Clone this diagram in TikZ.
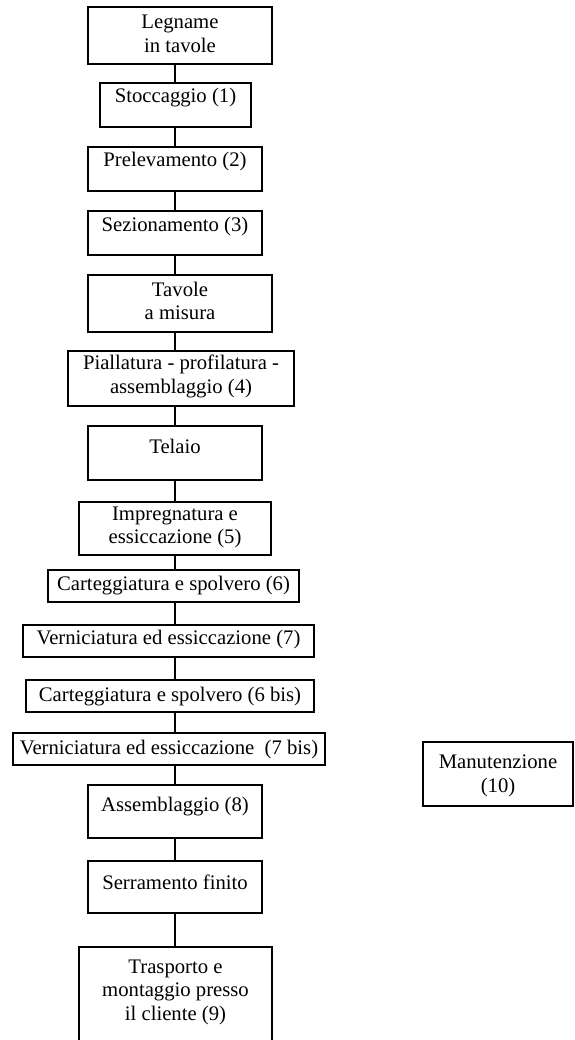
\documentclass[tikz,border=0pt]{standalone}
\usepackage{fontspec}
\setmainfont{Liberation Serif}
\begin{document}
\begin{tikzpicture}[x=1pt,y=-1pt,
  box/.style={draw=black,line width=1.1pt,inner sep=0pt,fill=none},
  lbl/.style={inner sep=0pt,align=center,font=\fontsize{20.7}{23.5}\selectfont},
  conn/.style={draw=black,line width=1.1pt}]
\useasboundingbox (0,0) rectangle (574,1040);
% boxes
\node[box,minimum width=184,minimum height=57] (b1) at (180,35.5) {};
\node[lbl] (t1) at (180,34) {Legname\\in tavole};
\node[box,minimum width=151,minimum height=44] (b2) at (175.5,105) {};
\node[lbl] (t2) at (175.5,98) {Stoccaggio (1)};
\node[box,minimum width=174,minimum height=44] (b3) at (175,169) {};
\node[lbl] (t3) at (175,162) {Prelevamento (2)};
\node[box,minimum width=174,minimum height=44] (b4) at (175,233) {};
\node[lbl] (t4) at (175,227) {Sezionamento (3)};
\node[box,minimum width=184,minimum height=57] (b5) at (180,303.5) {};
\node[lbl] (t5) at (180,301) {Tavole\\a misura};
\node[box,minimum width=226,minimum height=55] (b6) at (181,378.5) {};
\node[lbl] (t6) at (181,376.5) {Piallatura - profilatura -\\assemblaggio (4)};
\node[box,minimum width=174,minimum height=54] (b7) at (175,453) {};
\node[lbl] (t7) at (175,446) {Telaio};
\node[box,minimum width=192,minimum height=53] (b8) at (175,528.5) {};
\node[lbl] (t8) at (175,527.5) {Impregnatura e\\essiccazione (5)};
\node[box,minimum width=251,minimum height=32] (b9) at (173.5,586) {};
\node[lbl] (t9) at (173.5,586) {Carteggiatura e spolvero (6)};
\node[box,minimum width=291,minimum height=32] (b10) at (168.5,641) {};
\node[lbl] (t10) at (168.5,640) {Verniciatura ed essiccazione (7)};
\node[box,minimum width=288,minimum height=32] (b11) at (170,696) {};
\node[lbl] (t11) at (170,697) {Carteggiatura e spolvero (6 bis)};
\node[box,minimum width=312,minimum height=32] (b12) at (169,749) {};
\node[lbl] (t12) at (169,750) {Verniciatura ed essiccazione \ (7 bis)};
\node[box,minimum width=174,minimum height=53] (b13) at (175,811.5) {};
\node[lbl] (t13) at (175,807) {Assemblaggio (8)};
\node[box,minimum width=174,minimum height=52] (b14) at (175,887) {};
\node[lbl] (t14) at (175,882) {Serramento finito};
\node[box,minimum width=193,minimum height=100] (b15) at (175.5,997) {};
\node[lbl] (t15) at (175.5,992) {Trasporto e\\montaggio presso\\il cliente (9)};
\node[box,minimum width=150,minimum height=64] (b16) at (498,774) {};
\node[lbl] (t16) at (498,776) {Manutenzione\\(10)};
% connectors
\coordinate (cx) at (175,0);
\foreach \a/\b in {b1/b2,b2/b3,b3/b4,b4/b5,b5/b6,b6/b7,b7/b8,b8/b9,b9/b10,b10/b11,b11/b12,b12/b13,b13/b14,b14/b15}
  \draw[conn] (\a.south -| cx) -- (\b.north -| cx);
\end{tikzpicture}
\end{document}
